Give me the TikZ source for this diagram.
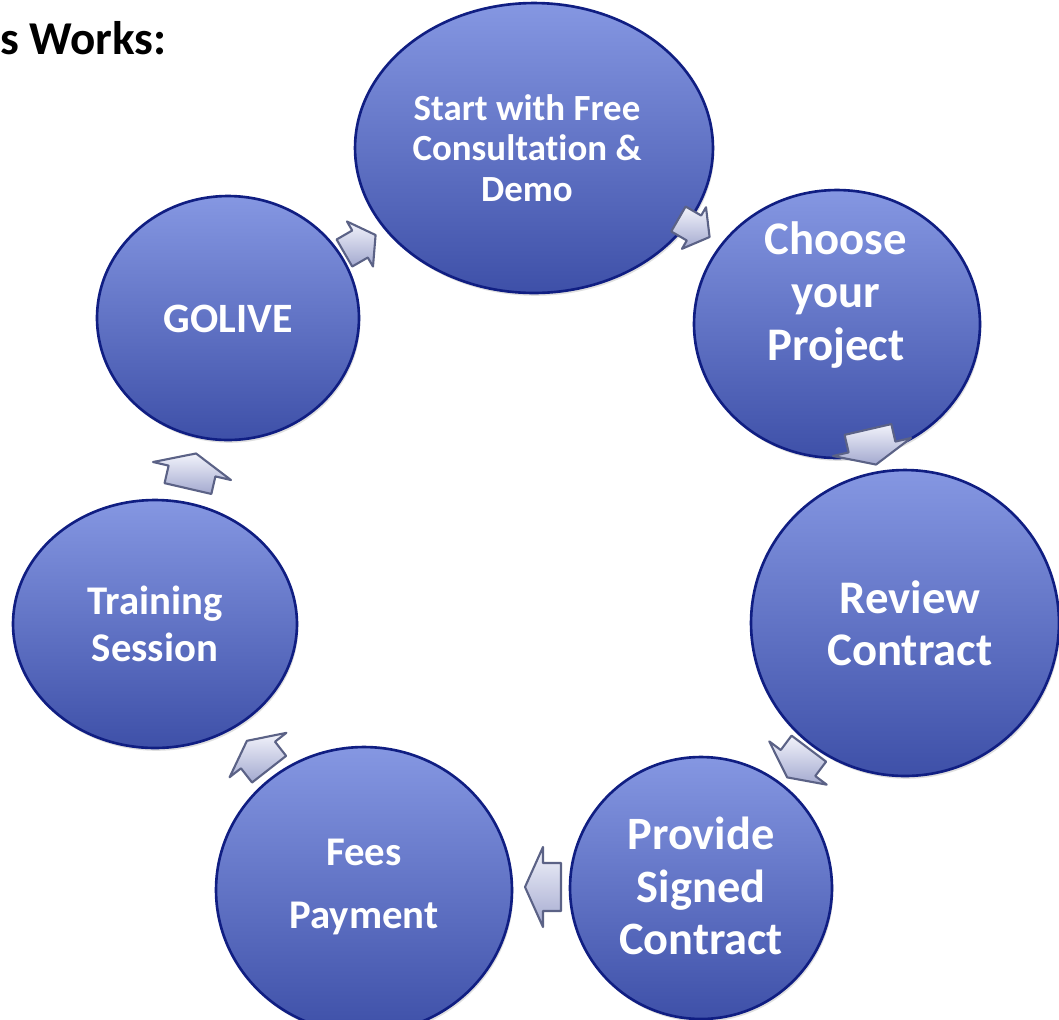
\documentclass[tikz,border=0pt]{standalone}
\usepackage{fontspec}
\setmainfont{Carlito}[Ligatures=NoCommon]
\usetikzlibrary{shapes.geometric,shadows,calc}
\definecolor{btop}{HTML}{8597E2}
\definecolor{bbot}{HTML}{3E50A8}
\definecolor{bedge}{HTML}{101E82}
\definecolor{atop}{HTML}{F2F3FB}
\definecolor{abot}{HTML}{A3A9CF}
\definecolor{aedge}{HTML}{5B6286}
\newcommand\blockarr[5]{%
  \coordinate (#1) at (#2,#3);
  \draw[blockarrow, shift={(#1)}, rotate=#4, yscale=#5]
    (-18,-24) -- (0,-24) -- (0,-40) -- (18,0) -- (0,40) -- (0,24) -- (-18,24) -- cycle;}
\begin{document}
\begin{tikzpicture}[x=0.02cm,y=-0.02cm,
  bubble/.style={ellipse, draw=bedge, line width=1.5pt, top color=btop, bottom color=bbot,
    inner sep=0pt, drop shadow={opacity=0.25, shadow xshift=0.8pt, shadow yshift=-1.6pt}},
  btext/.style={text=white, align=center},
  blockarrow/.style={draw=aedge, line width=1.2pt, line join=round, top color=atop, bottom color=abot}]
\useasboundingbox (0,0) rectangle (1059,1019);
\fill[white] (0,0) rectangle (1059,1019);

\node[anchor=west, inner sep=0pt, font=\bfseries\fontsize{26.8pt}{30pt}\selectfont] (title) at (0,38) {s Works:};

\node[bubble, minimum width=7.16cm, minimum height=5.80cm] (start) at (534,148) {};
\node[bubble, minimum width=5.72cm, minimum height=5.36cm] (choose) at (837,324) {};
\node[bubble, minimum width=6.16cm, minimum height=6.12cm] (review) at (905,623) {};
\node[bubble, minimum width=5.24cm, minimum height=5.24cm] (provide) at (701,888) {};
\node[bubble, minimum width=5.92cm, minimum height=5.72cm] (fees) at (364,890) {};
\node[bubble, minimum width=5.68cm, minimum height=4.96cm] (training) at (155,624) {};
\node[bubble, minimum width=5.24cm, minimum height=4.88cm] (golive) at (228,318) {};

\node[btext, font=\bfseries\fontsize{21pt}{23.2pt}\selectfont] (t1) at ($(start)+(-7,0)$) {Start with Free\\Consultation \&\\Demo};
\node[btext, font=\bfseries\fontsize{26.6pt}{30pt}\selectfont] (t2) at ($(choose)+(-1,-29)$) {Choose\\your\\Project};
\node[btext, font=\bfseries\fontsize{26.6pt}{29.5pt}\selectfont] (t3) at ($(review)+(5,0)$) {Review\\Contract};
\node[btext, font=\bfseries\fontsize{26.4pt}{30pt}\selectfont] (t4) at ($(provide)+(0,-2)$) {Provide\\Signed\\Contract};
\node[btext, font=\bfseries\fontsize{23.2pt}{35.7pt}\selectfont] (t5) at ($(fees)+(0,-3)$) {Fees\\Payment};
\node[btext, font=\bfseries\fontsize{23.2pt}{26.6pt}\selectfont] (t6) at ($(training)+(0,0)$) {Training\\Session};
\node[btext, font=\bfseries\fontsize{23.8pt}{27pt}\selectfont] (t7) at ($(golive)+(0,1)$) {GOLIVE};

\blockarr{a1}{694}{228}{-30}{0.6}
\blockarr{a2}{872}{447}{-77}{1}
\blockarr{a3}{798}{763}{-127}{0.9}
\blockarr{a4}{543}{887}{180}{1}
\blockarr{a5}{258}{755}{128}{0.9}
\blockarr{a6}{192}{471}{77}{1}
\blockarr{a7}{360}{244}{30}{0.65}
\end{tikzpicture}
\end{document}
